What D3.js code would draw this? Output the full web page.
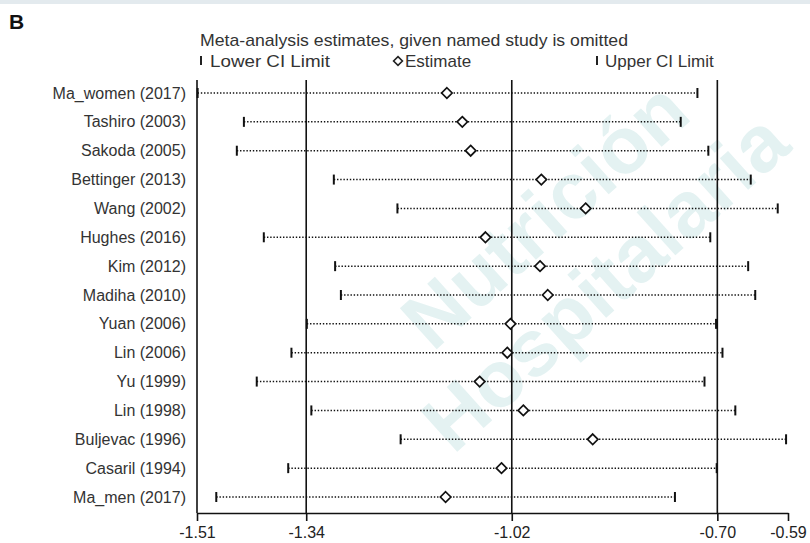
<!DOCTYPE html>
<html>
<head>
<meta charset="utf-8">
<script src="https://cdn.jsdelivr.net/npm/d3@7"></script>
<style>
  body { margin: 0; background: #fff; }
  svg text { font-family: "Liberation Sans", Arial, sans-serif; }
</style>
</head>
<body>
<svg id="chart"></svg>
<script>
// studies, in plotted order (top to bottom)
var studies = ["Ma_women (2017)", "Tashiro (2003)", "Sakoda (2005)", "Bettinger (2013)", "Wang (2002)",
  "Hughes (2016)", "Kim (2012)", "Madiha (2010)", "Yuan (2006)", "Lin (2006)", "Yu (1999)",
  "Lin (1998)", "Buljevac (1996)", "Casaril (1994)", "Ma_men (2017)"];
// estimate with the named study omitted, and its CI
var lowerCI = [-1.509, -1.437, -1.448, -1.297, -1.198, -1.406, -1.295, -1.286, -1.339, -1.363, -1.417, -1.332, -1.193, -1.368, -1.480];
var estimate = [-1.121, -1.097, -1.084, -0.974, -0.905, -1.061, -0.976, -0.964, -1.022, -1.027, -1.070, -1.002, -0.894, -1.036, -1.123];
var upperCI = [-0.731, -0.757, -0.714, -0.648, -0.606, -0.711, -0.652, -0.641, -0.702, -0.692, -0.720, -0.672, -0.593, -0.701, -0.766];
// pooled estimate and CI (reference lines)
var pooled = [-1.34, -1.02, -0.70];
var tickValues = [-1.51, -1.34, -1.02, -0.70, -0.59];

var width = 810, height = 543;
var svg = d3.select("#chart").attr("width", width).attr("height", height);

// light strip at top of the figure
svg.append("rect").attr("x", 0).attr("y", 0).attr("width", width).attr("height", 4).attr("fill", "#e3eaee");

// faint journal watermark
var wm = svg.append("g").attr("transform", "translate(590,265) rotate(-42)")
  .attr("fill", "#e4f2f2").attr("font-weight", "bold").attr("text-anchor", "middle");
wm.append("text").attr("y", -40).attr("font-size", 80).text("Nutrición");
wm.append("text").attr("y", 50).attr("font-size", 80).text("Hospitalaria");

var x = d3.scaleLinear().domain([-1.51, -0.59]).range([197, 788]);
var y = d3.scalePoint().domain(studies).range([93, 497]);

var plotTop = 80, axisY = 513;

// panel letter
svg.append("text").attr("x", 9).attr("y", 29).attr("font-size", 21).attr("font-weight", "bold")
  .attr("fill", "#111").text("B");

// title
svg.append("text").attr("x", 200).attr("y", 46).attr("font-size", 17).attr("fill", "#333")
  .attr("textLength", 428).attr("lengthAdjust", "spacingAndGlyphs")
  .text("Meta-analysis estimates, given named study is omitted");

// legend
var leg = svg.append("g").attr("font-size", 17).attr("fill", "#333");
leg.append("line").attr("x1", 201).attr("x2", 201).attr("y1", 56).attr("y2", 65).attr("stroke", "#222").attr("stroke-width", 2);
leg.append("text").attr("x", 210).attr("y", 67).attr("textLength", 120).attr("lengthAdjust", "spacingAndGlyphs").text("Lower CI Limit");
leg.append("path").attr("d", d3.symbol(d3.symbolDiamond2, 50)()).attr("transform", "translate(398,61)")
  .attr("fill", "none").attr("stroke", "#222").attr("stroke-width", 1.6);
leg.append("text").attr("x", 405).attr("y", 67).text("Estimate");
leg.append("line").attr("x1", 597).attr("x2", 597).attr("y1", 56).attr("y2", 65).attr("stroke", "#222").attr("stroke-width", 2);
leg.append("text").attr("x", 605).attr("y", 67).text("Upper CI Limit");

// axis
var axis = d3.axisBottom(x).tickValues(tickValues).tickSize(8).tickSizeOuter(0)
  .tickFormat(function(d) { return d.toFixed(2); });
var gx = svg.append("g").attr("transform", "translate(0," + axisY + ")").call(axis);
gx.select(".domain").attr("stroke", "#111").attr("stroke-width", 1.6);
gx.selectAll(".tick line").attr("stroke", "#111").attr("stroke-width", 1.6);
gx.selectAll(".tick text").attr("font-size", 16).attr("fill", "#222").attr("dy", "0.85em")
  .style("font-family", "'Liberation Sans', Arial, sans-serif");

// left frame line and pooled reference lines
svg.append("line").attr("x1", x(-1.51)).attr("x2", x(-1.51)).attr("y1", plotTop).attr("y2", axisY)
  .attr("stroke", "#111").attr("stroke-width", 1.6);
svg.selectAll("line.ref").data(pooled).enter().append("line").attr("class", "ref")
  .attr("x1", function(d) { return x(d); }).attr("x2", function(d) { return x(d); })
  .attr("y1", plotTop).attr("y2", axisY).attr("stroke", "#111").attr("stroke-width", 1.6);

// rows
var rows = svg.selectAll("g.row").data(studies).enter().append("g").attr("class", "row")
  .attr("transform", function(d) { return "translate(0," + y(d) + ")"; });

rows.append("text").attr("x", 186).attr("y", 0).attr("dy", "0.35em").attr("text-anchor", "end")
  .attr("font-size", 16).attr("fill", "#333").text(function(d) { return d; });

rows.append("line")
  .attr("x1", function(d, i) { return x(lowerCI[i]); })
  .attr("x2", function(d, i) { return x(upperCI[i]); })
  .attr("stroke", "#111").attr("stroke-width", 1.5).attr("stroke-dasharray", "1.4,1.8");

rows.append("line").attr("class", "lo")
  .attr("x1", function(d, i) { return x(lowerCI[i]); }).attr("x2", function(d, i) { return x(lowerCI[i]); })
  .attr("y1", -5).attr("y2", 5).attr("stroke", "#111").attr("stroke-width", 2);
rows.append("line").attr("class", "hi")
  .attr("x1", function(d, i) { return x(upperCI[i]); }).attr("x2", function(d, i) { return x(upperCI[i]); })
  .attr("y1", -5).attr("y2", 5).attr("stroke", "#111").attr("stroke-width", 2);

rows.append("path").attr("d", d3.symbol(d3.symbolDiamond2, 70)())
  .attr("transform", function(d, i) { return "translate(" + x(estimate[i]) + ",0)"; })
  .attr("fill", "#fff").attr("stroke", "#111").attr("stroke-width", 1.7);
</script>
</body>
</html>
